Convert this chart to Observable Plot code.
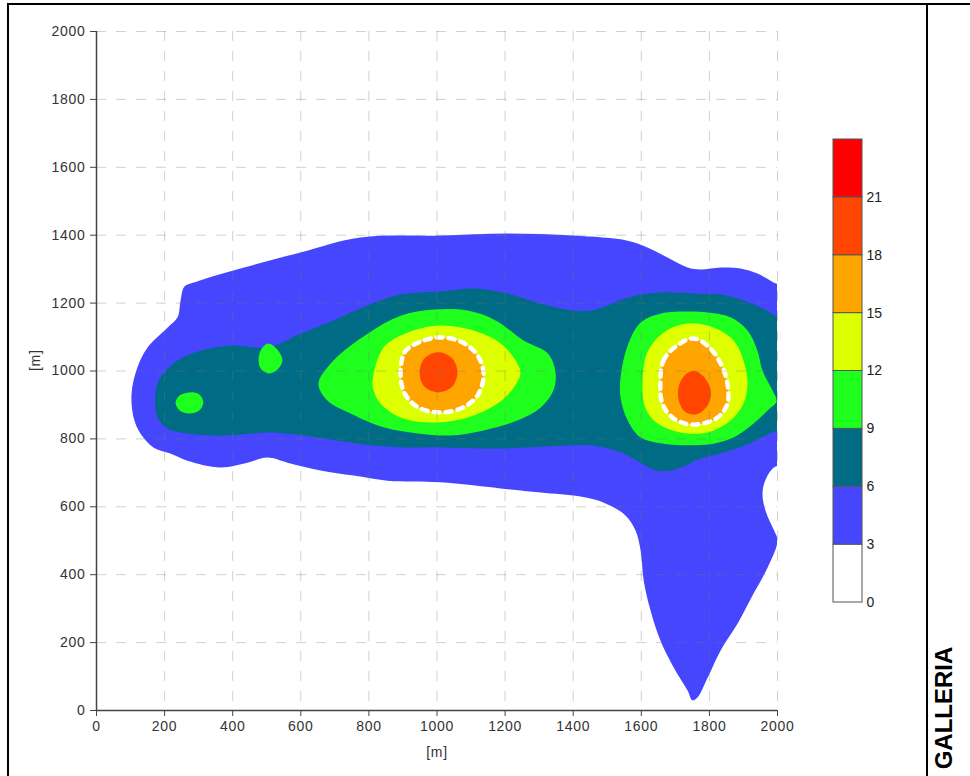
<!DOCTYPE html>
<html>
<head>
<meta charset="utf-8">
<script src="https://cdn.jsdelivr.net/npm/d3@7"></script>
<script src="https://cdn.jsdelivr.net/npm/@observablehq/plot@0.6"></script>
<style>
  html, body { margin: 0; padding: 0; background: #fff; }
  #wrap { position: relative; width: 970px; height: 776px; overflow: hidden; font-family: "Liberation Sans", Arial, sans-serif; }
  #main { position: absolute; left: 0; top: 0; }
  #legend { position: absolute; left: 832px; top: 129px; }
  .bar { position: absolute; background: #000; }
  #galleria { position: absolute; left: 944px; top: 708px; transform: translate(-50%, -50%) rotate(-90deg);
              font: bold 24px "Liberation Sans", Arial, sans-serif; color: #000; white-space: nowrap; }
</style>
</head>
<body>
<div id="wrap">
  <div id="main"></div>
  <div id="legend"></div>
  <div class="bar" style="left:7px;top:3px;width:963px;height:2px"></div>
  <div class="bar" style="left:7px;top:3px;width:2px;height:773px"></div>
  <div class="bar" style="left:926px;top:3px;width:2px;height:773px"></div>
  <div id="galleria">GALLERIA</div>
</div>
<script>
// ---- contour levels and colours ----
const levels = [0, 3, 6, 9, 12, 15, 18, 21, 24];
const levelColors = ["#ffffff", "#4646ff", "#006b84", "#1eff1e", "#ddff00", "#ffa500", "#ff4500", "#ff0000"];
const legendTicks = [0, 3, 6, 9, 12, 15, 18, 21];
const axisTicks = [0, 200, 400, 600, 800, 1000, 1200, 1400, 1600, 1800, 2000];
const gridTicks = [200, 400, 600, 800, 1000, 1200, 1400, 1600, 1800, 2000];

// ---- contour outlines, [x m, y m] ----
const band3to6 = [[247,1208],[258,1248],[291,1262],[402,1296],[599,1349],[775,1393],[1010,1399],[1207,1405],[1401,1399],[1560,1384],[1618,1364],[1677,1334],[1736,1305],[1774,1299],[1833,1305],[1891,1302],[1941,1287],[1988,1261],[2030,1240],[2040,1000],[2030,740],[1985,712],[1962,672],[1956,635],[1966,585],[1990,530],[2000,500],[1971,421],[1930,345],[1883,256],[1833,177],[1795,97],[1765,38],[1750,30],[1736,59],[1695,127],[1656,206],[1627,295],[1607,383],[1598,471],[1583,530],[1554,574],[1495,610],[1421,630],[1304,642],[1187,654],[1010,672],[855,677],[755,692],[658,707],[561,730],[502,745],[443,730],[364,716],[267,736],[217,757],[167,775],[129,816],[109,863],[103,934],[120,1010],[150,1069],[209,1128],[238,1158]];
const band6to9 = [[173,934],[188,981],[238,1031],[305,1060],[402,1075],[502,1069],[599,1110],[696,1149],[796,1193],[893,1225],[1010,1234],[1107,1243],[1207,1228],[1304,1199],[1401,1178],[1451,1178],[1501,1193],[1560,1216],[1656,1231],[1753,1228],[1853,1222],[1950,1187],[2000,1158],[2040,1120],[2045,980],[2040,830],[2000,825],[1965,810],[1906,781],[1833,757],[1765,739],[1730,722],[1686,707],[1642,707],[1598,730],[1539,760],[1451,781],[1333,778],[1187,772],[1010,775],[902,775],[805,781],[708,795],[608,810],[511,819],[461,816],[364,810],[267,816],[209,831],[179,863]];
const band9to12Middle = [[652,963],[696,1031],[796,1110],[893,1163],[990,1181],[1090,1178],[1172,1149],[1254,1090],[1325,1052],[1348,996],[1342,943],[1304,892],[1236,854],[1137,825],[1040,810],[943,816],[843,834],[746,875],[678,913]];
const band9to12Right = [[1539,981],[1560,1075],[1598,1143],[1656,1169],[1745,1175],[1795,1172],[1862,1158],[1912,1119],[1941,1060],[1956,1001],[1985,943],[1997,910],[1971,884],[1930,845],[1871,804],[1812,786],[1745,781],[1665,786],[1598,804],[1560,854],[1539,922]];
const band9to12SpotA = [[232,907],[244,928],[273,937],[302,931],[314,907],[302,884],[273,875],[244,884]];
const band9to12SpotB = [[505,1081],[531,1063],[546,1031],[531,1004],[505,993],[482,1007],[476,1037],[485,1066]];
const band12to15Middle = [[811,972],[843,1069],[913,1113],[1010,1134],[1107,1119],[1187,1081],[1236,1022],[1245,993],[1225,951],[1178,904],[1090,863],[990,848],[893,863],[834,904],[814,943]];
const band12to15Right = [[1604,972],[1618,1055],[1665,1113],[1736,1140],[1812,1128],[1871,1090],[1900,1031],[1912,963],[1900,904],[1862,854],[1795,819],[1715,819],[1648,845],[1612,892]];
const band15to18Middle = [[893,990],[905,1055],[946,1084],[1010,1099],[1075,1084],[1119,1046],[1137,990],[1119,928],[1075,892],[1010,878],[946,892],[905,934]];
const band15to18Right = [[1656,963],[1665,1031],[1701,1072],[1753,1096],[1797,1072],[1833,1022],[1853,963],[1853,904],[1824,863],[1753,842],[1695,860],[1662,904]];
const band18to21Middle = [[1004,1055],[1045,1037],[1060,996],[1045,954],[1004,937],[963,954],[949,996],[963,1037]];
const band18to21Right = [[1753,1001],[1783,984],[1804,943],[1798,904],[1774,878],[1753,872],[1727,881],[1710,913],[1710,954],[1727,987]];

// table built from the arrays above
const regions = [
  {pts: band3to6, color: levelColors[1]},
  {pts: band6to9, color: levelColors[2]},
  {pts: band9to12Middle, color: levelColors[3]},
  {pts: band9to12Right, color: levelColors[3]},
  {pts: band9to12SpotA, color: levelColors[3]},
  {pts: band9to12SpotB, color: levelColors[3]},
  {pts: band12to15Middle, color: levelColors[4]},
  {pts: band12to15Right, color: levelColors[4]},
  {pts: band15to18Middle, color: levelColors[5]},
  {pts: band15to18Right, color: levelColors[5]},
  {pts: band18to21Middle, color: levelColors[6]},
  {pts: band18to21Right, color: levelColors[6]}
];
const dashedOutlines = [band15to18Middle, band15to18Right];

const fontFamily = '"Liberation Sans", Arial, sans-serif';
const plain = d => String(d);

const main = Plot.plot({
  width: 970, height: 776,
  marginLeft: 96, marginRight: 193, marginTop: 31, marginBottom: 66,
  x: {domain: [0, 2000], axis: null},
  y: {domain: [0, 2000], axis: null},
  style: `font-family:${fontFamily};font-size:14px;letter-spacing:0.7px;color:#333;background:transparent;overflow:visible`,
  marks: [
    ...regions.map(r => Plot.line(r.pts, {x: d => d[0], y: d => d[1], fill: r.color, stroke: "none", curve: "catmull-rom-closed", clip: true})),
    ...dashedOutlines.map(o => Plot.line(o, {x: d => d[0], y: d => d[1], stroke: "#ffffff", strokeWidth: 4.5, strokeDasharray: "6,6", curve: "catmull-rom-closed"})),
    Plot.gridX(gridTicks, {stroke: "#777", strokeOpacity: 0.35, strokeDasharray: "10,10"}),
    Plot.gridY(gridTicks, {stroke: "#777", strokeOpacity: 0.35, strokeDasharray: "10,10"}),
    Plot.ruleX([0], {stroke: "#444", strokeWidth: 1.5}),
    Plot.ruleY([0], {stroke: "#444", strokeWidth: 1.5}),
    Plot.axisX(axisTicks, {tickSize: 6, tickPadding: 5, label: null, tickFormat: plain, stroke: "#444", fill: "#333"}),
    Plot.axisY(axisTicks, {tickSize: 6, tickPadding: 5, label: null, tickFormat: plain, stroke: "#444", fill: "#333"}),
    Plot.text([1000], {x: d => d, frameAnchor: "bottom", dy: 46, text: () => "[m]", fill: "#333", fontSize: 14}),
    Plot.text([1000], {y: d => d, frameAnchor: "left", dx: -61, rotate: -90, text: () => "[m]", fill: "#333", fontSize: 14})
  ]
});
document.getElementById("main").append(main);

const bands = levels.slice(0, -1).map((lo, i) => ({lo, hi: levels[i + 1], color: levelColors[i]}));
const legend = Plot.plot({
  width: 62, height: 483,
  marginLeft: 1, marginRight: 32, marginTop: 10, marginBottom: 10,
  x: {domain: [0, 1], axis: null},
  y: {domain: [0, 24], axis: null},
  color: {type: "identity"},
  style: `font-family:${fontFamily};font-size:14px;color:#222;background:transparent;overflow:visible`,
  marks: [
    Plot.rect(bands, {x1: 0, x2: 1, y1: "lo", y2: "hi", fill: "color", stroke: "#555", strokeWidth: 1}),
    Plot.axisY(legendTicks, {anchor: "right", tickSize: 0, tickPadding: 4, label: null, tickFormat: plain, fill: "#222"})
  ]
});
document.getElementById("legend").append(legend);
</script>
</body>
</html>
